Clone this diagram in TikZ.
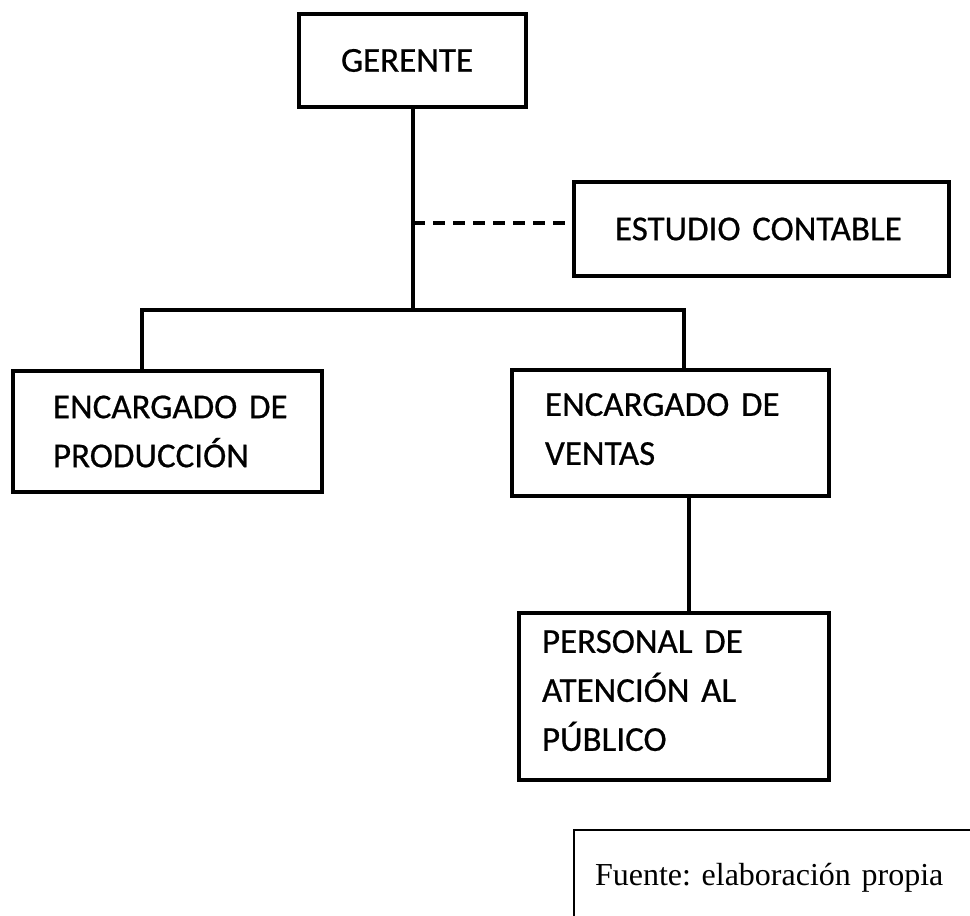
\documentclass[tikz,border=0pt]{standalone}
\usepackage{fontspec}
\setmainfont[FakeBold=0.6]{Carlito}
\newfontfamily\fuentefont{Liberation Serif}
\frenchspacing
\newcommand{\lowpad}[1]{\rule[-#1]{0pt}{0pt}}
\begin{document}
\begin{tikzpicture}[x=1pt,y=-1pt,
  orgbox/.style={draw=black, line width=4pt, rectangle, align=left,
    font=\fontsize{35}{49}\selectfont, inner ysep=0pt},
  conn/.style={draw=black, line width=4pt},
  dashconn/.style={draw=black, line width=4pt, dash pattern=on 12pt off 8pt}]
\useasboundingbox (0,0) rectangle (970,916);
\clip (0,0) rectangle (970,916);
% boxes
\node[orgbox, inner xsep=42pt, text width=143pt, minimum height=93pt] (ger) at (412.5,60.5) {GERENTE};
\node[orgbox, inner xsep=41pt, text width=293pt, minimum height=94pt] (est) at (761.5,229) {ESTUDIO~CONTABLE};
\node[orgbox, inner xsep=40pt, text width=229pt, minimum height=121pt] (prod) at (167.5,431.5) {ENCARGADO~DE\\PRODUCCIÓN};
\node[orgbox, inner xsep=33pt, text width=251pt, minimum height=126pt] (ven) at (670.5,433) {ENCARGADO~DE\\VENTAS\lowpad{8pt}};
\node[orgbox, inner xsep=23pt, text width=264pt, minimum height=167pt] (per) at (674,696.5) {PERSONAL~DE\\ATENCIÓN~AL\\PÚBLICO\lowpad{12pt}};
\node[draw=black, line width=1.5pt, rectangle, align=left, inner xsep=21pt, inner ysep=0pt,
  text width=384pt, minimum height=95pt, font=\fuentefont\fontsize{32}{38}\selectfont] (fue) at (787,877.5) {Fuente: elaboración propia};
% connector points
\coordinate (j) at (413,310);
\coordinate (barL) at (142,310);
\coordinate (barR) at (684,310);
\coordinate (d) at (413,223);
\coordinate (v) at (689,0);
% connectors
\draw[conn] (ger.south -| j) -- (j);
\draw[conn] ([xshift=-2pt]barL) -- ([xshift=2pt]barR);
\draw[conn] (barL) -- (barL |- prod.north);
\draw[conn] (barR) -- (barR |- ven.north);
\draw[dashconn] (d) -- (d -| est.west);
\draw[conn] (ven.south -| v) -- (per.north -| v);
\end{tikzpicture}
\end{document}
